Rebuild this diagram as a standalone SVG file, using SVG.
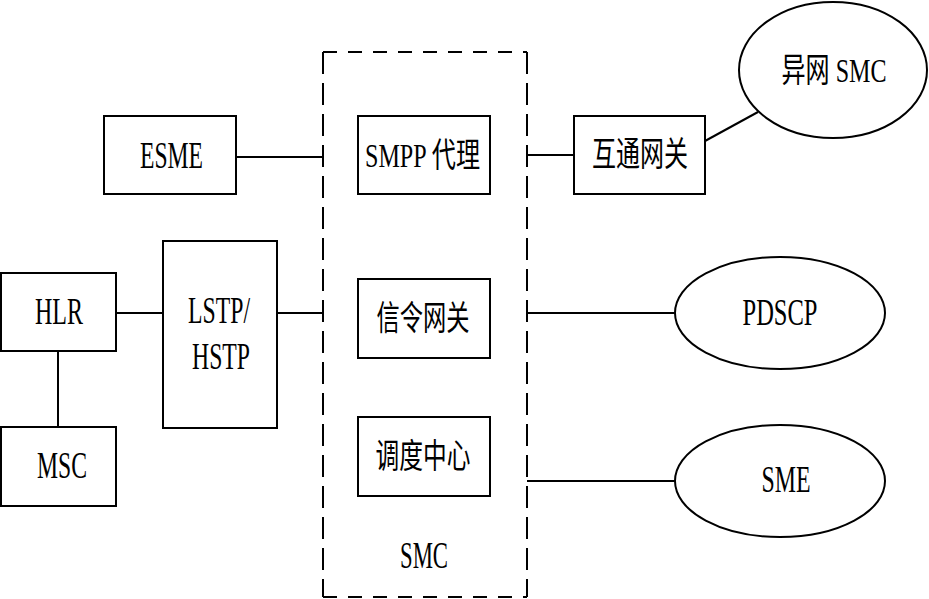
<svg xmlns="http://www.w3.org/2000/svg" width="929" height="599" viewBox="0 0 929 599">
<style>
.box{fill:#fff;stroke:#000;stroke-width:2}
.ell{fill:#fff;stroke:#000;stroke-width:2}
.ln{stroke:#000;stroke-width:2;fill:none}
.t{font-family:"Liberation Serif","Noto Sans CJK SC",serif;font-size:37px;fill:#000;text-anchor:middle}
.c{font-family:"Liberation Serif","Noto Sans CJK SC",serif;font-size:34px;fill:#000;text-anchor:middle}
</style>
<rect width="929" height="599" fill="#fff"/>
<g id="connectors">
<line class="ln" x1="236" y1="157" x2="323" y2="157"/>
<line class="ln" x1="527" y1="155" x2="574" y2="155"/>
<line class="ln" x1="705" y1="141" x2="758" y2="112"/>
<line class="ln" x1="116" y1="313" x2="163" y2="313"/>
<line class="ln" x1="277" y1="313" x2="323" y2="313"/>
<line class="ln" x1="58" y1="351" x2="58" y2="427"/>
<line class="ln" x1="527" y1="313" x2="675" y2="313"/>
<line class="ln" x1="527" y1="481" x2="675" y2="481"/>
</g>
<g id="SMC">
<line class="ln" x1="323" y1="52" x2="527" y2="52" stroke-dasharray="14 11" stroke-width="2.4"/>
<line class="ln" x1="323" y1="597" x2="527" y2="597" stroke-dasharray="14 11" stroke-width="2.6"/>
<line class="ln" x1="323" y1="52" x2="323" y2="597" stroke-dasharray="22 9"/>
<line class="ln" x1="527" y1="52" x2="527" y2="597" stroke-dasharray="22 9"/>
<text class="t" x="424" y="568" textLength="48" lengthAdjust="spacingAndGlyphs">SMC</text>
</g>
<g id="ESME">
<rect class="box" x="104" y="116" width="132" height="78"/>
<text class="t" x="171.5" y="168" textLength="63" lengthAdjust="spacingAndGlyphs">ESME</text>
</g>
<g id="SMPP">
<rect class="box" x="358" y="116" width="132" height="78"/>
<text class="c" x="422.5" y="167" textLength="115" lengthAdjust="spacingAndGlyphs">SMPP 代理</text>
</g>
<g id="hutong">
<rect class="box" x="574" y="116" width="131" height="78"/>
<text class="c" x="640" y="166" textLength="96" lengthAdjust="spacingAndGlyphs">互通网关</text>
</g>
<g id="yiwang">
<ellipse class="ell" cx="833" cy="70" rx="94" ry="68"/>
<text class="c" x="834" y="82" textLength="105" lengthAdjust="spacingAndGlyphs">异网 SMC</text>
</g>
<g id="HLR">
<rect class="box" x="1" y="273" width="115" height="78"/>
<text class="t" x="59" y="324" textLength="48" lengthAdjust="spacingAndGlyphs">HLR</text>
</g>
<g id="LSTP">
<rect class="box" x="163" y="241" width="114" height="187"/>
<text class="t" x="219" y="323" textLength="62" lengthAdjust="spacingAndGlyphs">LSTP/</text>
<text class="t" x="221" y="369" textLength="58" lengthAdjust="spacingAndGlyphs">HSTP</text>
</g>
<g id="MSC">
<rect class="box" x="1" y="427" width="115" height="79"/>
<text class="t" x="62" y="478" textLength="50" lengthAdjust="spacingAndGlyphs">MSC</text>
</g>
<g id="xinling">
<rect class="box" x="358" y="279" width="132" height="79"/>
<text class="c" x="423" y="330" textLength="93" lengthAdjust="spacingAndGlyphs">信令网关</text>
</g>
<g id="diaodu">
<rect class="box" x="358" y="417" width="132" height="79"/>
<text class="c" x="423" y="468" textLength="95" lengthAdjust="spacingAndGlyphs">调度中心</text>
</g>
<g id="PDSCP">
<ellipse class="ell" cx="780" cy="313" rx="105" ry="56"/>
<text class="t" x="780" y="325" textLength="75" lengthAdjust="spacingAndGlyphs">PDSCP</text>
</g>
<g id="SME">
<ellipse class="ell" cx="780" cy="481" rx="105" ry="56"/>
<text class="t" x="786" y="492" textLength="49" lengthAdjust="spacingAndGlyphs">SME</text>
</g>
</svg>
